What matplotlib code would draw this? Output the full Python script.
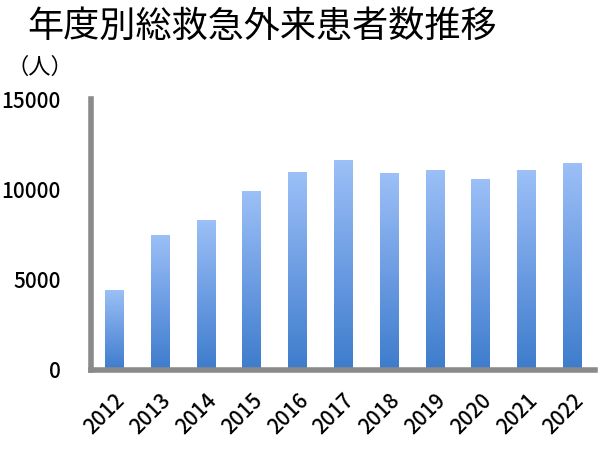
import numpy as np
import matplotlib.pyplot as plt
from matplotlib.colors import LinearSegmentedColormap

plt.rcParams['font.family'] = ['Noto Sans CJK JP', 'DejaVu Sans']

years = ['2012', '2013', '2014', '2015', '2016', '2017', '2018', '2019', '2020', '2021', '2022']
patients = [4450, 7480, 8300, 9910, 10940, 11620, 10880, 11080, 10570, 11050, 11470]
yticks = [0, 5000, 10000, 15000]

fig = plt.figure(figsize=(6, 4.5), dpi=100)
ax = fig.add_axes([0.152, 0.178, 0.84, 0.602])

x = np.arange(len(years))
bars = ax.bar(x, patients, width=0.4, color='none', edgecolor='none')

# vertical gradient, darker at the bottom
cmap = LinearSegmentedColormap.from_list('grad', ['#3d7ccc', '#6d9de3', '#9cc0f7'])
grad = np.linspace(0, 1, 256).reshape(-1, 1)
for b in bars:
    bx, by = b.get_x(), b.get_y()
    w, h = b.get_width(), b.get_height()
    im = ax.imshow(grad, cmap=cmap, origin='lower', aspect='auto',
                   extent=[bx, bx + w, by, by + h], zorder=2)
    im.set_clip_path(b)

ax.set_xlim(-0.5, 10.5)
ax.set_ylim(0, 15000)
ax.set_yticks(yticks)
ax.set_yticklabels([str(t) for t in yticks], fontsize=15, fontweight='medium')
ax.set_xticks(x)
ax.set_xticklabels(years, rotation=45, ha='right', rotation_mode='anchor',
                   fontsize=15, fontweight='medium')
ax.tick_params(length=0)
ax.tick_params(axis='y', pad=22)
ax.tick_params(axis='x', pad=14)

for s in ['top', 'right']:
    ax.spines[s].set_visible(False)
for s in ['left', 'bottom']:
    ax.spines[s].set_color('#8a8a8a')
    ax.spines[s].set_linewidth(4)

fig.text(0.437, 0.94, '年度別総救急外来患者数推移', ha='center', va='center', fontsize=26)
fig.text(0.067, 0.851, '（人）', ha='center', va='center', fontsize=16)

fig.savefig('out.png', dpi=100)
